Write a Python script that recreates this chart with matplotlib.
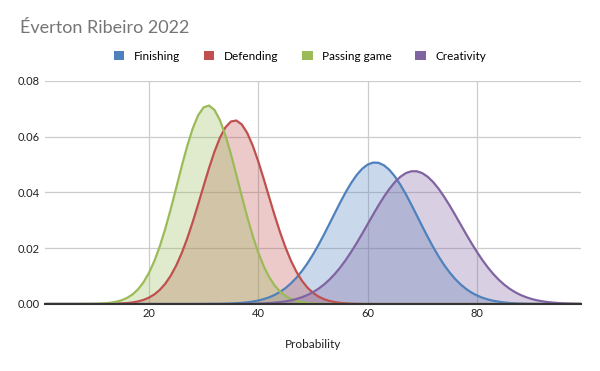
import numpy as np
import matplotlib
matplotlib.use("Agg")
import matplotlib.pyplot as plt
from matplotlib.patches import Patch

plt.rcParams["font.family"] = ["Lato", "DejaVu Sans"]

# probability axis, 1..99
x_values = list(range(1, 100))

series_names = ["Finishing", "Defending", "Passing game", "Creativity"]
series_colors = ["#4F81BD", "#C0504D", "#9BBB59", "#8064A2"]

# each curve: first x where it leaves zero, then the values
finishing_start = 30
finishing = [0.00002, 0.00003, 0.00005, 0.00007, 0.00011, 0.00018, 0.00027, 0.00041,
             0.00060, 0.00087, 0.00124, 0.00174, 0.00240, 0.00326, 0.00435, 0.00573,
             0.00742, 0.00944, 0.01184, 0.01459, 0.01770, 0.02112, 0.02480, 0.02866,
             0.03258, 0.03643, 0.04010, 0.04341, 0.04625, 0.04848, 0.05000, 0.05073,
             0.05065, 0.04975, 0.04809, 0.04573, 0.04278, 0.03939, 0.03568, 0.03179,
             0.02788, 0.02405, 0.02041, 0.01705, 0.01401, 0.01133, 0.00901, 0.00705,
             0.00543, 0.00411, 0.00307, 0.00225, 0.00163, 0.00115, 0.00081, 0.00055,
             0.00037, 0.00025, 0.00016, 0.00011, 0.00007, 0.00004, 0.00003]

defending_start = 12
defending = [0.00003, 0.00006, 0.00011, 0.00019, 0.00033, 0.00055, 0.00091, 0.00146,
             0.00227, 0.00344, 0.00507, 0.00728, 0.01016, 0.01379, 0.01823, 0.02343,
             0.02932, 0.03569, 0.04228, 0.04873, 0.05466, 0.05965, 0.06335, 0.06546,
             0.06582, 0.06440, 0.06131, 0.05679, 0.05119, 0.04490, 0.03832, 0.03182,
             0.02571, 0.02022, 0.01547, 0.01152, 0.00834, 0.00588, 0.00403, 0.00269,
             0.00175, 0.00111, 0.00068, 0.00041, 0.00024, 0.00013, 0.00007, 0.00004,
             0.00002]

passing_start = 8
passing = [0.00002, 0.00004, 0.00007, 0.00014, 0.00025, 0.00046, 0.00079, 0.00133,
           0.00217, 0.00342, 0.00523, 0.00774, 0.01109, 0.01541, 0.02072, 0.02701,
           0.03409, 0.04167, 0.04934, 0.05659, 0.06287, 0.06766, 0.07052, 0.07119,
           0.06962, 0.06595, 0.06050, 0.05377, 0.04629, 0.03860, 0.03117, 0.02439,
           0.01848, 0.01357, 0.00964, 0.00664, 0.00443, 0.00286, 0.00179, 0.00109,
           0.00064, 0.00036, 0.00020, 0.00011, 0.00006, 0.00003, 0.00001]

creativity_start = 36
creativity = [0.00003, 0.00004, 0.00007, 0.00010, 0.00015, 0.00022, 0.00033, 0.00048,
              0.00068, 0.00095, 0.00132, 0.00180, 0.00243, 0.00322, 0.00422, 0.00545,
              0.00693, 0.00869, 0.01075, 0.01311, 0.01576, 0.01869, 0.02184, 0.02517,
              0.02859, 0.03202, 0.03536, 0.03849, 0.04132, 0.04374, 0.04563, 0.04695,
              0.04761, 0.04761, 0.04695, 0.04563, 0.04374, 0.04132, 0.03849, 0.03536,
              0.03202, 0.02859, 0.02517, 0.02184, 0.01869, 0.01576, 0.01311, 0.01075,
              0.00869, 0.00693, 0.00545, 0.00422, 0.00322, 0.00243, 0.00180, 0.00132,
              0.00095, 0.00068, 0.00048, 0.00033, 0.00022, 0.00015, 0.00010, 0.00007]

x_ticks = [20, 40, 60, 80]
y_ticks = [0.00, 0.02, 0.04, 0.06, 0.08]


def full_series(start, vals):
    y = np.zeros(len(x_values))
    y[start - 1:start - 1 + len(vals)] = vals
    return y


curves = [full_series(finishing_start, finishing),
          full_series(defending_start, defending),
          full_series(passing_start, passing),
          full_series(creativity_start, creativity)]

fig = plt.figure(figsize=(6, 3.71), dpi=100, facecolor="w")
ax = fig.add_axes([0.075, 0.1806, 0.893, 0.6011])

for y, col in zip(curves, series_colors):
    ax.fill_between(x_values, y, 0, color=col, alpha=0.3, linewidth=0, zorder=2)
for y, col in zip(curves, series_colors):
    ax.plot(x_values, y, color=col, linewidth=1.6, zorder=3)

ax.set_xlim(1, 99)
ax.set_ylim(0, 0.08)
ax.set_xticks(x_ticks)
ax.set_yticks(y_ticks)
ax.set_yticklabels(["%.2f" % v for v in y_ticks])
ax.grid(True, color="#cccccc", linewidth=0.9, zorder=0)
ax.set_axisbelow(True)
ax.tick_params(axis="y", length=0, labelsize=8, colors="#222222", pad=4)
ax.tick_params(axis="x", length=0, labelsize=8, colors="#222222", pad=3)
for s in ["top", "right", "left"]:
    ax.spines[s].set_visible(False)
ax.spines["bottom"].set_color("#333333")
ax.spines["bottom"].set_linewidth(1.5)
ax.spines["bottom"].set_zorder(4)

ax.set_xlabel("Probability", fontsize=8.5, color="#222222", labelpad=14)

fig.text(20 / 600, 1 - 28 / 371, "Éverton Ribeiro 2022", fontsize=13,
         color="#757575", va="center", ha="left")

handles = [Patch(facecolor=c, edgecolor="none") for c in series_colors]
fig.legend(handles, series_names, loc="center", ncol=4,
           bbox_to_anchor=(0.5, 1 - 56 / 371), frameon=False, fontsize=8.5,
           handlelength=0.9, handleheight=0.9, columnspacing=2.0,
           handletextpad=0.8)

plt.savefig("out.png", dpi=100)
